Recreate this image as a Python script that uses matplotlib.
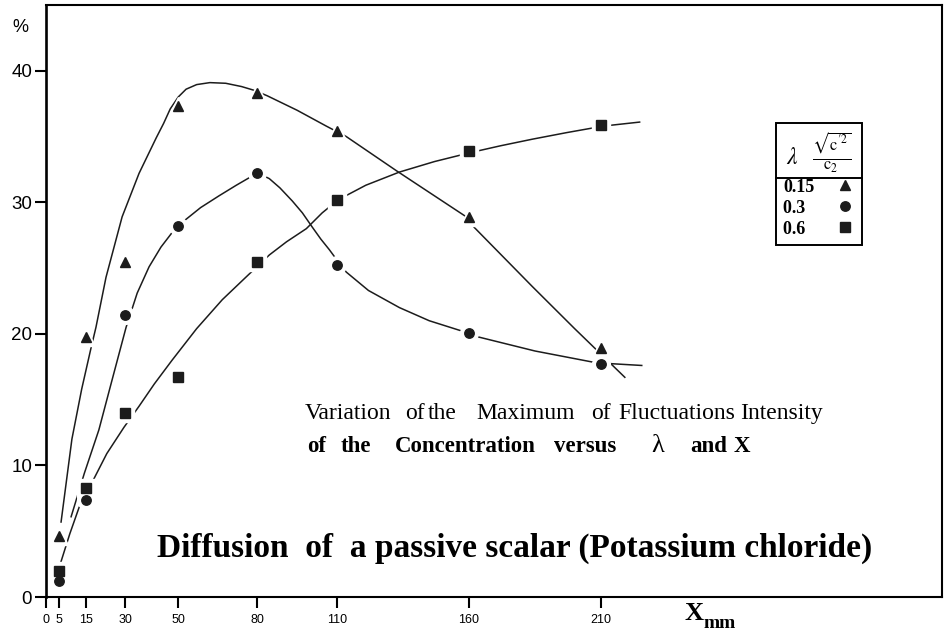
import matplotlib
matplotlib.use('Agg')
import matplotlib.pyplot as plt
from matplotlib.lines import Line2D

plt.rcParams['mathtext.fontset'] = 'stix'

# measured points (x in mm, y in %)
x_pos = [5, 15, 30, 50, 80, 110, 160, 210]
tri_y = [4.6, 19.8, 25.5, 37.3, 38.3, 35.4, 28.9, 18.9]
circ_y = [1.2, 7.4, 21.4, 28.2, 32.2, 25.2, 20.1, 17.7]
sq_y = [2.0, 8.3, 14.0, 16.7, 25.5, 30.2, 33.9, 35.9]

# hand-drawn fitted curves
tri_cx = [5.7, 9.8, 13.5, 17.0, 18.9, 22.7, 28.8, 35.2, 41.7, 44.5, 47.0, 50.0, 53.0,
          57.0, 62.0, 68.0, 74.0, 79.0, 83.7, 95, 106, 113.6, 132.6, 159, 162, 184,
          200, 219]
tri_cy = [5.7, 12.0, 15.8, 18.9, 20.5, 24.3, 28.9, 32.2, 34.9, 36.0, 37.1, 38.0, 38.6,
          38.95, 39.1, 39.05, 38.8, 38.5, 38.1, 37.0, 35.8, 35.0, 32.4, 28.9, 28.1, 23.6,
          20.4, 16.7]
circ_cx = [9.5, 14.5, 20, 25, 30.3, 34.5, 39, 43.5, 47.7, 52.3, 58.5, 65.5, 72.0, 78,
           81.5, 84.5, 88.5, 93.2, 97.0, 100.8, 104.0, 107.2, 110.5, 113.6, 122.0, 133.7,
           145.0, 157.6, 162.9, 185, 208.3, 225.4]
circ_cy = [6.1, 9.4, 12.7, 16.5, 20.5, 23.1, 25.1, 26.6, 27.7, 28.6, 29.6, 30.5, 31.3,
           32.0, 32.1, 31.8, 31.1, 30.1, 29.2, 28.1, 27.2, 26.4, 25.5, 24.7, 23.3, 22.0,
           21.0, 20.2, 19.8, 18.7, 17.8, 17.6]
sq_cx = [5.7, 9.0, 12.5, 17.4, 23.0, 29.5, 35.2, 41.0, 47.7, 57.0, 66.7, 76.1, 80.3,
         84.5, 91.0, 98.5, 104.5, 110.6, 121.0, 133.7, 147.0, 161, 172.0, 184, 197.0,
         211, 224.6]
sq_cy = [2.7, 4.8, 6.8, 8.7, 10.9, 12.9, 14.5, 16.2, 18.0, 20.4, 22.6, 24.4, 25.2,
         26.0, 27.0, 28.0, 29.2, 30.2, 31.3, 32.3, 33.1, 33.8, 34.3, 34.8, 35.3, 35.8,
         36.1]

x_ticks = [0, 5, 15, 30, 50, 80, 110, 160, 210]
y_ticks = [0, 10, 20, 30, 40]
labels = ['0.15', '0.3\u2007', '0.6\u2007']

ink = '#1c1c1c'

fig = plt.figure(figsize=(9.47, 6.38), dpi=100)
ax = fig.add_axes([46 / 947, 41 / 638, 896 / 947, 592 / 638])
ax.set_xlim(0, 339)
ax.set_ylim(0, 45)

# curves
for cx, cy in [(tri_cx, tri_cy), (circ_cx, circ_cy), (sq_cx, sq_cy)]:
    ax.plot(cx, cy, color=ink, lw=1.1, zorder=2, solid_joinstyle='round')

# white halos so the curves break around the markers
series = [(tri_y, '^', 7.5), (circ_y, 'o', 6.8), (sq_y, 's', 6.8)]
for ys, mk, ms in series:
    ax.plot(x_pos, ys, ls='none', marker=mk, ms=ms + 6, color='white',
            mec='white', zorder=3)
handles = []
for (ys, mk, ms), lab in zip(series, labels):
    h, = ax.plot(x_pos, ys, ls='none', marker=mk, ms=ms, color=ink, mec=ink,
                 zorder=4, label=lab)
    handles.append(h)

# axes styling
for side in ['top', 'right', 'bottom']:
    ax.spines[side].set_linewidth(1.5)
ax.spines['left'].set_linewidth(1.9)
ax.set_xticks(x_ticks)
ax.set_yticks(y_ticks)
ax.set_xticklabels([str(t) for t in x_ticks], fontsize=9, family='Liberation Sans')
ax.set_yticklabels([str(t) for t in y_ticks], fontsize=13.5, family='Liberation Sans')
ax.tick_params(axis='x', length=8, width=1.5, pad=4)
ax.tick_params(axis='y', length=8, width=1.5, pad=2)

# legend box
title = r"$\lambda$" + "  " + r"$\frac{\sqrt{\mathrm{c}^{\prime 2}}}{\mathrm{c}_2}$"
leg = ax.legend(handles=handles, loc='upper left', bbox_to_anchor=(0.815, 0.800),
                borderaxespad=0, markerfirst=False, numpoints=1, handlelength=1.0,
                handletextpad=1.2, fancybox=False, framealpha=1, edgecolor='black',
                prop={'family': 'Liberation Serif', 'weight': 'bold', 'size': 13},
                title=title, title_fontsize=17, labelspacing=0.22, borderpad=0.4)
leg.get_frame().set_linewidth(1.4)

fig.canvas.draw()
inv = fig.transFigure.inverted()
fb = leg.get_frame().get_window_extent()
tb = leg.get_title().get_window_extent()
(x0, ysep), = inv.transform([(fb.x0, tb.y0 - 3)])
(x1, _), = inv.transform([(fb.x1, tb.y0 - 3)])
fig.add_artist(Line2D([x0, x1], [ysep, ysep], color='black', lw=1.4,
                      transform=fig.transFigure))

# texts
fig.text(20 / 947, 1 - 27 / 638, '%', fontsize=13, family='Liberation Sans',
         ha='center', va='center')

# the scanned caption is letter-spaced, so place it word by word
line1 = [(305, 'Variation'), (405, 'of'), (428, 'the'), (476, 'Maximum'), (591, 'of'),
         (618, 'Fluctuations'), (740, 'Intensity')]
for px, s in line1:
    fig.text(px / 947, 1 - 419 / 638, s, fontsize=17, family='Liberation Serif',
             va='baseline', ha='left')
line2 = [(307, 'of'), (341, 'the'), (395, 'Concentration'), (554, 'versus'),
         (690, 'and'), (734, 'X')]
for px, s in line2:
    fig.text(px / 947, 1 - 452 / 638, s, fontsize=16.5, family='Liberation Serif',
             weight='bold', va='baseline', ha='left')
fig.text(651 / 947, 1 - 452 / 638, '\u03bb', fontsize=19, family='Liberation Serif',
         va='baseline', ha='left')

fig.text(157 / 947, 1 - 557 / 638,
         'Diffusion  of  a passive scalar (Potassium chloride)',
         fontsize=24, family='Liberation Serif', weight='bold', va='baseline', ha='left')
fig.text(684 / 947, 1 - 614 / 638, 'X', fontsize=19, family='Liberation Serif',
         weight='bold', va='center', ha='left')
fig.text(703 / 947, 1 - 624 / 638, 'mm', fontsize=14, family='Liberation Serif',
         weight='bold', va='center', ha='left')

fig.savefig('out.png', dpi=100)
